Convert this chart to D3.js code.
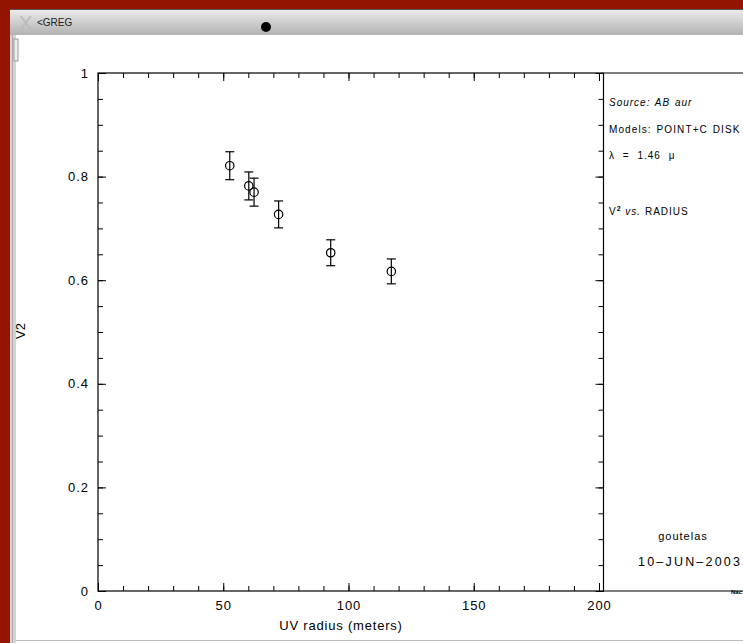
<!DOCTYPE html>
<html>
<head>
<meta charset="utf-8">
<script src="https://cdn.jsdelivr.net/npm/d3@7"></script>
<style>
  body { margin: 0; background: #931400; overflow: hidden; }
  svg { display: block; }
  text { font-family: 'Liberation Sans', Arial, sans-serif; fill: #000; }
</style>
</head>
<body>
<svg id="chart" width="743" height="643"></svg>
<script>
// data
const radius = [52.6, 60.2, 62.3, 72.1, 92.9, 117.1];
const v2 = [0.821, 0.782, 0.770, 0.727, 0.653, 0.617];
const v2err = [0.027, 0.027, 0.027, 0.026, 0.025, 0.024];
const xTicks = [0, 50, 100, 150, 200];
const yTicks = [0, 0.2, 0.4, 0.6, 0.8, 1];
const infoLines = ["Source: AB aur", "Models: POINT+C DISK", "λ = 1.46 μ"];

const svg = d3.select("#chart");

// window frame
const defs = svg.append("defs");
const grad = defs.append("linearGradient").attr("id", "bar").attr("x1", 0).attr("y1", 0).attr("x2", 0).attr("y2", 1);
grad.append("stop").attr("offset", "0%").attr("stop-color", "#ececec");
grad.append("stop").attr("offset", "100%").attr("stop-color", "#b2b2b2");

svg.append("rect").attr("x", 10).attr("y", 9).attr("width", 733).attr("height", 634).attr("fill", "#fff");
svg.append("rect").attr("x", 10).attr("y", 9).attr("width", 733).attr("height", 26).attr("fill", "url(#bar)");
svg.append("line").attr("x1", 10).attr("x2", 743).attr("y1", 9.5).attr("y2", 9.5).attr("stroke", "#555");
svg.append("rect").attr("x", 10).attr("y", 35).attr("width", 6).attr("height", 608).attr("fill", "#d4d4d4");
svg.append("line").attr("x1", 12.5).attr("x2", 12.5).attr("y1", 35).attr("y2", 643).attr("stroke", "#aaa");
svg.append("rect").attr("x", 14).attr("y", 39).attr("width", 4).attr("height", 22).attr("fill", "#eee").attr("stroke", "#999");
svg.append("line").attr("x1", 16).attr("x2", 743).attr("y1", 640.5).attr("y2", 640.5).attr("stroke", "#bbb");
svg.append("text").attr("x", 19).attr("y", 30).attr("font-size", 20).style("fill", "#bbb").text("X");
svg.append("text").attr("x", 37).attr("y", 26).attr("font-size", 10).style("fill", "#222").text("<GREG");
svg.append("circle").attr("cx", 266).attr("cy", 27).attr("r", 5).attr("fill", "#000");

// plot area
const x = d3.scaleLinear().domain([0, 201.8]).range([98, 603.5]);
const y = d3.scaleLinear().domain([0, 1]).range([591, 73]);

const frame = svg.append("g").attr("stroke", "#000").attr("fill", "none");
frame.append("rect").attr("x", 98).attr("y", 73).attr("width", 505.5).attr("height", 518).attr("stroke-width", 1.2);
frame.append("line").attr("x1", 603.5).attr("x2", 743).attr("y1", 73).attr("y2", 73).attr("stroke-width", 1.2);
frame.append("line").attr("x1", 603.5).attr("x2", 743).attr("y1", 591).attr("y2", 591).attr("stroke-width", 1.2);

const minorX = d3.range(0, 201, 10);
const minorY = d3.range(0, 1.001, 0.05);

function styleAxis(g) {
  g.select(".domain").remove();
  g.selectAll("line").attr("stroke", "#000");
  g.selectAll("text").style("font-family", "'Liberation Sans', Arial, sans-serif")
    .attr("font-size", 13).style("letter-spacing", "1px").attr("fill", "#000");
}

// bottom
svg.append("g").attr("transform", "translate(0,591)")
  .call(d3.axisBottom(x).tickValues(minorX).tickSize(-5).tickFormat("")).call(styleAxis);
svg.append("g").attr("transform", "translate(0,591)")
  .call(d3.axisBottom(x).tickValues(xTicks).tickSize(-8).tickPadding(10).tickFormat(d3.format("d"))).call(styleAxis);
// top
svg.append("g").attr("transform", "translate(0,73)")
  .call(d3.axisTop(x).tickValues(minorX).tickSize(-5).tickFormat("")).call(styleAxis);
svg.append("g").attr("transform", "translate(0,73)")
  .call(d3.axisTop(x).tickValues(xTicks).tickSize(-8).tickFormat("")).call(styleAxis);
// left
svg.append("g").attr("transform", "translate(98,0)")
  .call(d3.axisLeft(y).tickValues(minorY).tickSize(-5).tickFormat("")).call(styleAxis);
svg.append("g").attr("transform", "translate(98,0)")
  .call(d3.axisLeft(y).tickValues(yTicks).tickSize(-8).tickPadding(9).tickFormat(d3.format("~g"))).call(styleAxis);
// right
svg.append("g").attr("transform", "translate(603.5,0)")
  .call(d3.axisRight(y).tickValues(minorY).tickSize(-5).tickFormat("")).call(styleAxis);
svg.append("g").attr("transform", "translate(603.5,0)")
  .call(d3.axisRight(y).tickValues(yTicks).tickSize(-8).tickFormat("")).call(styleAxis);

// axis titles
svg.append("text").attr("x", 341).attr("y", 630).attr("text-anchor", "middle").attr("font-size", 13)
  .style("letter-spacing", "0.8px").text("UV radius (meters)");
svg.append("text").attr("transform", "translate(25,331) rotate(-90)").attr("text-anchor", "middle").attr("font-size", 13).text("V2");

// error bars and points
const pts = svg.append("g").attr("stroke", "#000").attr("fill", "none").attr("stroke-width", 1.2);
radius.forEach((r, i) => {
  const cx = x(r), top = y(v2[i] + v2err[i]), bot = y(v2[i] - v2err[i]);
  pts.append("line").attr("x1", cx).attr("x2", cx).attr("y1", top).attr("y2", bot);
  pts.append("line").attr("x1", cx - 4.5).attr("x2", cx + 4.5).attr("y1", top).attr("y2", top);
  pts.append("line").attr("x1", cx - 4.5).attr("x2", cx + 4.5).attr("y1", bot).attr("y2", bot);
  pts.append("circle").attr("cx", cx).attr("cy", y(v2[i])).attr("r", 4.2);
});

// info panel
infoLines.forEach((t, i) => {
  const el = svg.append("text").attr("x", 609).attr("y", 106 + i * 26.5).attr("font-size", 10)
    .style("letter-spacing", i === 1 ? "1.1px" : "1px").style("word-spacing", i === 2 ? "4px" : "1px");
  if (i === 0) el.style("font-style", "italic");
  el.text(t);
});
const v2t = svg.append("text").attr("x", 609).attr("y", 215).attr("font-size", 10).style("letter-spacing", "1px");
v2t.append("tspan").text("V");
v2t.append("tspan").attr("dy", -4).attr("font-size", 7).style("font-weight", "bold").text("2");
v2t.append("tspan").attr("dy", 4).style("font-style", "italic").text(" vs.");
v2t.append("tspan").text(" RADIUS");

svg.append("text").attr("x", 683).attr("y", 540).attr("text-anchor", "middle").attr("font-size", 11)
  .style("letter-spacing", "1px").text("goutelas");
svg.append("text").attr("x", 638).attr("y", 566).attr("font-size", 12.5).style("letter-spacing", "2.2px").text("10–JUN–2003");
svg.append("text").attr("x", 731).attr("y", 594).attr("font-size", 6).style("font-weight", "bold").text("Nac");
</script>
</body>
</html>
